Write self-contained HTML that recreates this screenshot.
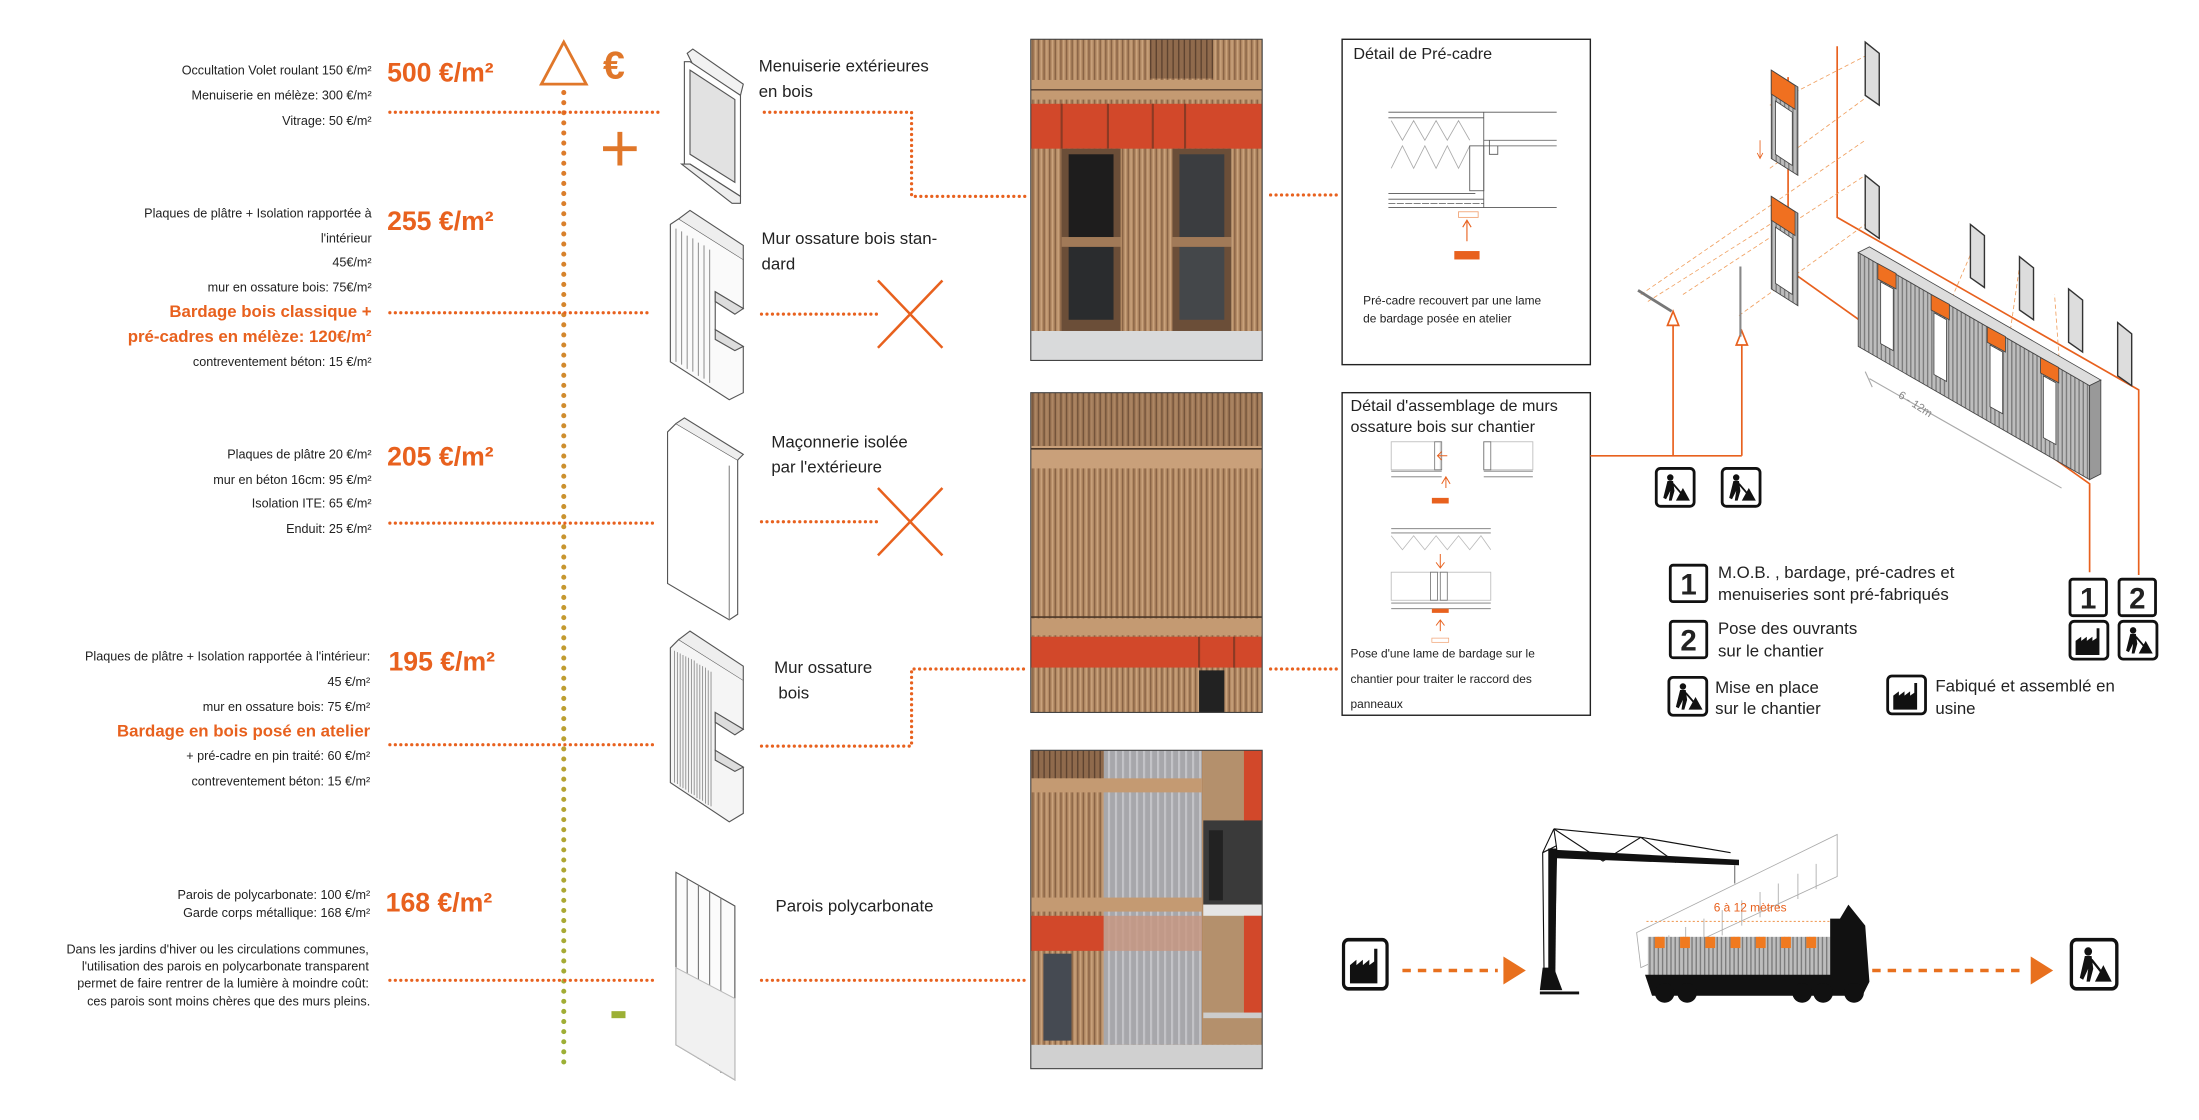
<!DOCTYPE html>
<html><head><meta charset="utf-8"><style>
html,body{margin:0;padding:0;background:#fff;}
svg{display:block;}
text{font-family:"Liberation Sans",sans-serif;}
</style></head><body>
<svg width="2199" height="1120" viewBox="0 0 1568 798.6" xmlns="http://www.w3.org/2000/svg">
<defs>
<linearGradient id="vg" gradientUnits="userSpaceOnUse" x1="0" y1="60" x2="0" y2="760">
<stop offset="0" stop-color="#e0772a"/><stop offset="0.55" stop-color="#c49a30"/><stop offset="1" stop-color="#9cb035"/></linearGradient>
<pattern id="wood" width="4" height="10" patternUnits="userSpaceOnUse">
<rect width="4" height="10" fill="#b38a64"/><rect x="0" width="1" height="10" fill="#8a6446"/><rect x="2" width="1" height="10" fill="#c9a27c"/></pattern>
<pattern id="woodd" width="4" height="10" patternUnits="userSpaceOnUse">
<rect width="4" height="10" fill="#8f6a4c"/><rect x="0" width="1" height="10" fill="#5e4330"/></pattern>
<pattern id="poly" width="5" height="10" patternUnits="userSpaceOnUse">
<rect width="5" height="10" fill="#a7a7ab"/><rect x="0" width="1.5" height="10" fill="#c4c4c8"/></pattern>
<pattern id="panel" width="3" height="10" patternUnits="userSpaceOnUse">
<rect width="3" height="10" fill="#bdbdbd"/><rect width="1" height="10" fill="#7d7d7d"/></pattern>
<g id="worker"><rect x="0" y="0" width="27" height="27" rx="3" fill="#fff" stroke="#111" stroke-width="2"/>
<circle cx="10" cy="6.5" r="2.3" fill="#111"/><path d="M8 9 L12 9 L13 16 L11 23 L9 23 L10 16 L7 22 L5 21 Z" fill="#111"/><path d="M12 11 L18 18" stroke="#111" stroke-width="1.3"/><path d="M14 23 L19 14 L24 23 Z" fill="#111"/></g>
<g id="factory"><rect x="0" y="0" width="27" height="27" rx="3" fill="#fff" stroke="#111" stroke-width="2"/>
<path d="M4 24 L4 14 L8 11 L8 14 L12 11 L12 14 L16 11 L16 14 L19 12 L19 5 L21 5 L21 24 Z" fill="#111"/></g>
</defs>

<!-- LEFT TEXT -->
<g font-size="9" fill="#222" text-anchor="end">
<text x="265" y="53">Occultation Volet roulant 150 €/m²</text>
<text x="265" y="71">Menuiserie en mélèze: 300 €/m²</text>
<text x="265" y="89">Vitrage: 50 €/m²</text>
<text x="265" y="155">Plaques de  plâtre + Isolation rapportée à</text>
<text x="265" y="173">l'intérieur</text>
<text x="265" y="190">45€/m²</text>
<text x="265" y="208">mur en ossature bois: 75€/m²</text>
<text x="265" y="261">contreventement béton: 15 €/m²</text>
<text x="265" y="327">Plaques de plâtre 20 €/m²</text>
<text x="265" y="345">mur en béton 16cm: 95 €/m²</text>
<text x="265" y="362">Isolation ITE: 65 €/m²</text>
<text x="265" y="380">Enduit: 25 €/m²</text>
<text x="264" y="471">Plaques de plâtre + Isolation rapportée à l'intérieur:</text>
<text x="264" y="489">45 €/m²</text>
<text x="264" y="507">mur en ossature bois: 75 €/m²</text>
<text x="264" y="542">+ pré-cadre en pin traité: 60 €/m²</text>
<text x="264" y="560">contreventement béton: 15 €/m²</text>
<text x="264" y="641">Parois de polycarbonate: 100 €/m²</text>
<text x="264" y="654">Garde corps métallique: 168 €/m²</text>
<text x="263" y="680">Dans les jardins d'hiver ou les circulations communes,</text>
<text x="263" y="692">l'utilisation des parois en polycarbonate transparent</text>
<text x="263" y="704">permet de faire rentrer de la lumière à moindre coût:</text>
<text x="264" y="717">ces parois sont moins chères que des murs pleins.</text>
</g>
<g font-size="12" font-weight="bold" fill="#e8611e" text-anchor="end">
<text x="265" y="226">Bardage bois classique +</text>
<text x="265" y="244">pré-cadres en mélèze: 120€/m²</text>
<text x="264" y="525">Bardage en bois posé en atelier</text>
</g>
<g font-size="19" font-weight="bold" fill="#e8611e">
<text x="276" y="58">500 €/m²</text>
<text x="276" y="164">255 €/m²</text>
<text x="276" y="332">205 €/m²</text>
<text x="277" y="478">195 €/m²</text>
<text x="275" y="650">168 €/m²</text>
</g>

<!-- axis -->
<path d="M386 60 L402 30 L418 60 Z" fill="none" stroke="#e0772a" stroke-width="2"/>
<text x="430" y="56" font-size="28" font-weight="bold" fill="#e0772a">€</text>
<path d="M442 94 V118 M430 106 H454" stroke="#e0772a" stroke-width="3.5"/>
<rect x="436" y="721" width="10" height="5" fill="#9cb035"/>
<line x1="402" y1="66" x2="402" y2="762" stroke="url(#vg)" stroke-width="3.6" stroke-linecap="round" stroke-dasharray="0 7.2"/>

<!-- horizontal dotted -->
<g stroke="#e8611e" stroke-width="2.3" stroke-linecap="round" stroke-dasharray="0 3.9" fill="none">
<line x1="278" y1="80" x2="470" y2="80"/>
<line x1="278" y1="223" x2="462" y2="223"/>
<line x1="278" y1="373" x2="467" y2="373"/>
<line x1="278" y1="531" x2="468" y2="531"/>
<line x1="278" y1="699" x2="468" y2="699"/>
<path d="M545 80 H650 V140 H732"/>
<line x1="906" y1="139" x2="955" y2="139"/>
<line x1="543" y1="224" x2="625" y2="224"/>
<line x1="543" y1="372" x2="625" y2="372"/>
<path d="M543 532 H650 V477 H732"/>
<line x1="906" y1="477" x2="955" y2="477"/>
<line x1="543" y1="699" x2="733" y2="699"/>
</g>
<g stroke="#e8611e" stroke-width="1.8">
<path d="M626 200 L672 248 M672 200 L626 248"/>
<path d="M626 348 L672 396 M672 348 L626 396"/>
</g>

<!-- element drawings -->
<g fill="#fff" stroke="#555" stroke-width="0.8">
<path d="M490 38 L494 35 L530 60 L528 68 L494 46 Z" fill="#f2f2f2"/>
<path d="M488 44 L492 44 L528 68 L528 140 L492 117 L488 117 Z"/>
<path d="M492 50 L524 71 L524 130 L492 110 Z" fill="#e2e2e2"/>
<path d="M486 117 L492 117 L528 140 L528 145 L522 145 Z" fill="#eee"/>
<!-- stud wall 1 -->
<path d="M478 160 L484 156 L530 185 L530 220 L510 208 L510 235 L530 247 L530 280 L520 285 L478 258 Z" fill="#fafafa"/>
<path d="M484 156 L492 150 L530 175 L530 185" fill="#eee"/>
<path d="M482 163 V258 M486 165 V260 M490 168 V263 M494 170 V265 M498 173 V268 M502 175 V270 M506 178 V273" stroke="#999"/>
<path d="M510 208 L530 220 L524 224 L510 215 Z M510 235 L530 247 L524 250 L510 242 Z" fill="#ddd"/>
<!-- masonry -->
<path d="M476 308 L482 302 L526 328 L526 438 L520 442 L476 416 Z"/>
<path d="M482 302 L488 298 L530 324 L526 328" fill="#eee"/>
<path d="M520 332 V442" stroke="#888"/>
<!-- stud wall 2 -->
<path d="M478 462 L484 456 L530 485 L530 520 L510 508 L510 535 L530 547 L530 580 L520 586 L478 558 Z" fill="#f5f5f5"/>
<path d="M484 456 L492 450 L530 475 L530 485" fill="#eee"/>
<path d="M481 464 V558 M483 465 V559 M485 466 V561 M487 467 V562 M489 468 V563 M491 469 V565 M493 470 V566 M495 471 V567 M497 473 V569 M499 474 V570 M501 475 V571 M503 476 V573 M505 478 V574 M507 479 V575" stroke="#888" stroke-width="0.6"/>
<path d="M510 508 L530 520 L524 524 L510 515 Z M510 535 L530 547 L524 550 L510 542 Z" fill="#ddd"/>
<!-- polycarbonate -->
<path d="M482 622 L524 646 L524 770 L482 745 Z" fill="#fbfbfb"/>
<path d="M490 627 V750 M498 631 V755 M506 636 V760 M514 640 V765" stroke="#777"/>
<path d="M482 690 L524 712 L524 770 L482 745 Z" fill="#f1f1f1" stroke="#bbb"/>
</g>

<g font-size="12" fill="#222">
<text x="541" y="51">Menuiserie extérieures</text>
<text x="541" y="69">en bois</text>
<text x="543" y="174">Mur ossature bois stan-</text>
<text x="543" y="192">dard</text>
<text x="550" y="319">Maçonnerie isolée</text>
<text x="550" y="337">par l'extérieure</text>
<text x="552" y="480">Mur ossature</text>
<text x="555" y="498">bois</text>
<text x="553" y="650">Parois polycarbonate</text>
</g>

<!-- PHOTO 1 -->
<g>
<rect x="735" y="28" width="165" height="229" fill="url(#wood)"/>
<rect x="820" y="28" width="45" height="28" fill="url(#woodd)"/>
<rect x="735" y="57" width="165" height="14" fill="#c49a72"/>
<line x1="735" y1="64" x2="900" y2="64" stroke="#5a4030" stroke-width="1"/>
<rect x="735" y="74" width="165" height="32" fill="#d2482a"/>
<path d="M757 74 V106 M790 74 V106 M822 74 V106 M845 74 V106" stroke="#8b3a24" stroke-width="1.5"/>
<rect x="757" y="106" width="42" height="130" fill="#6b4e38"/>
<rect x="762" y="110" width="32" height="60" fill="#1e1d1d"/>
<rect x="762" y="176" width="32" height="52" fill="#2a2c2e"/>
<rect x="757" y="169" width="42" height="7" fill="#a17a58"/>
<rect x="836" y="106" width="42" height="130" fill="#6b4e38"/>
<rect x="841" y="110" width="32" height="60" fill="#3b3d40"/>
<rect x="841" y="176" width="32" height="52" fill="#44474a"/>
<rect x="836" y="169" width="42" height="7" fill="#a17a58"/>
<rect x="735" y="236" width="165" height="21" fill="#d9dadb"/>
<rect x="735" y="28" width="165" height="229" fill="none" stroke="#444" stroke-width="0.8"/>
</g>
<!-- PHOTO 2 -->
<g>
<rect x="735" y="280" width="165" height="228" fill="url(#wood)"/>
<rect x="735" y="280" width="165" height="40" fill="url(#woodd)" opacity="0.5"/>
<rect x="735" y="318" width="165" height="16" fill="#c9a07a"/>
<line x1="735" y1="320" x2="900" y2="320" stroke="#4d3828" stroke-width="1.2"/>
<line x1="735" y1="440" x2="900" y2="440" stroke="#4d3828" stroke-width="1.2"/>
<rect x="735" y="441" width="165" height="12" fill="#c49a72"/>
<rect x="735" y="454" width="165" height="22" fill="#d2482a"/>
<path d="M855 454 V476 M880 454 V476" stroke="#8b3a24" stroke-width="1.5"/>
<rect x="855" y="478" width="18" height="30" fill="#222"/>
<rect x="735" y="280" width="165" height="228" fill="none" stroke="#444" stroke-width="0.8"/>
</g>
<!-- PHOTO 3 -->
<g>
<rect x="735" y="535" width="165" height="227" fill="url(#wood)"/>
<rect x="787" y="535" width="70" height="210" fill="url(#poly)"/>
<rect x="735" y="535" width="52" height="20" fill="url(#woodd)"/>
<rect x="735" y="555" width="122" height="10" fill="#c49a72"/>
<rect x="858" y="535" width="42" height="210" fill="#b4906c"/>
<rect x="887" y="535" width="13" height="60" fill="#d2482a"/>
<rect x="858" y="585" width="42" height="60" fill="#3a3a3a"/>
<rect x="862" y="592" width="10" height="50" fill="#222"/>
<rect x="858" y="645" width="42" height="8" fill="#e5e5e5"/>
<rect x="735" y="640" width="122" height="10" fill="#c49a72"/>
<rect x="735" y="653" width="52" height="25" fill="#d2482a"/>
<rect x="787" y="653" width="70" height="25" fill="#c89680" opacity="0.8"/>
<rect x="887" y="653" width="13" height="70" fill="#d2482a"/>
<rect x="744" y="680" width="20" height="62" fill="#454a52"/>
<rect x="858" y="722" width="42" height="4" fill="#ccc"/>
<rect x="735" y="745" width="165" height="17" fill="#d0d0d0"/>
<rect x="735" y="535" width="165" height="227" fill="none" stroke="#444" stroke-width="0.8"/>
</g>

<!-- DETAIL BOXES -->
<rect x="957" y="28" width="177" height="232" fill="#fff" stroke="#222" stroke-width="1"/>
<text x="965" y="42" font-size="11.5" fill="#222">Détail de Pré-cadre</text>
<g stroke="#555" stroke-width="0.6" fill="none">
<path d="M990 80 H1110 M990 84 H1058 M1058 80 V148 M990 148 H1110 M990 142 H1058 M990 138 H1052"/>
<path d="M992 86 L1000 100 L1008 86 L1016 100 L1024 86 L1032 100 L1040 86 L1048 100 M992 120 L1000 104 L1008 120 L1016 104 L1024 120 L1032 104 L1040 120 L1048 104" stroke="#aaa"/>
<rect x="1048" y="104" width="10" height="32"/>
<path d="M1058 100 H1110 M1058 104 H1110 M1062 100 V110 H1068 V104" />
<path d="M990 145 H1058" stroke-dasharray="5 1"/>
</g>
<rect x="1040" y="151" width="14" height="4" fill="none" stroke="#f0a070" stroke-width="0.6"/>
<path d="M1046 158 V172 M1043 162 L1046 157 L1049 162" stroke="#e8611e" stroke-width="0.8" fill="none"/>
<rect x="1037" y="179" width="18" height="6" fill="#e8611e"/>
<text x="972" y="217" font-size="8.5" fill="#222">Pré-cadre recouvert par une lame</text>
<text x="972" y="230" font-size="8.5" fill="#222">de bardage posée en atelier</text>

<rect x="957" y="280" width="177" height="230" fill="#fff" stroke="#222" stroke-width="1"/>
<text x="963" y="293" font-size="11.5" fill="#222">Détail d'assemblage de murs</text>
<text x="963" y="308" font-size="11.5" fill="#222">ossature bois sur chantier</text>
<g stroke="#777" stroke-width="0.6" fill="none">
<rect x="992" y="315" width="35" height="20" stroke="#bbb"/><rect x="1023" y="315" width="5" height="20"/>
<path d="M992 336 H1028 M992 340 H1028"/>
<rect x="1058" y="315" width="35" height="20" stroke="#bbb"/><rect x="1058" y="315" width="5" height="20"/>
<path d="M1058 336 H1093 M1058 340 H1093"/>
<path d="M992 377 H1063 M992 380 H1063" />
<path d="M992 382 L1000 392 L1008 382 L1016 392 L1024 382 L1032 392 L1040 382 L1048 392 L1056 382 L1063 392" stroke="#bbb"/>
<rect x="992" y="408" width="71" height="20" stroke="#bbb"/><rect x="1020" y="408" width="5" height="20"/><rect x="1027" y="408" width="5" height="20"/>
<path d="M992 430 H1063 M992 434 H1063"/>
</g>
<path d="M1031 348 V340 M1028 345 L1031 340 L1034 345 M1025 325 H1032 M1028 322 L1025 325 L1028 328 M1027 395 V405 M1024 401 L1027 405 L1030 401 M1027 450 V442 M1024 446 L1027 442 L1030 446" stroke="#e8611e" stroke-width="0.7" fill="none"/>
<rect x="1021" y="355" width="12" height="4" fill="#e8611e"/>
<rect x="1021" y="434" width="12" height="3" fill="#e8611e"/>
<rect x="1021" y="455" width="12" height="3" fill="none" stroke="#f0a070" stroke-width="0.5"/>
<g font-size="8.5" fill="#222">
<text x="963" y="469">Pose d'une lame de bardage sur le</text>
<text x="963" y="487">chantier pour traiter le raccord des</text>
<text x="963" y="505">panneaux</text>
</g>

<!-- connectors to iso -->
<g stroke="#e8611e" stroke-width="1.2" fill="none">
<path d="M1134 325 H1242"/>
<path d="M1193 325 V232 M1242 325 V246"/>
<path d="M1189 232 L1193 222 L1197 232 Z M1238 246 L1242 236 L1246 246 Z" fill="#fff"/>
<path d="M1275 55 V192 L1490 345 V408"/>
<path d="M1310 33 V155 L1525 278 V410"/>
</g>
<use href="#worker" x="1181" y="334"/>
<use href="#worker" x="1228" y="334"/>

<!-- iso diagram -->
<g stroke="#f0a060" stroke-width="0.6" stroke-dasharray="3 2" fill="none">
<path d="M1170 210 L1330 100 M1200 210 L1330 125 M1240 225 L1330 160 M1175 215 L1262 160"/>
<path d="M1262 75 L1330 40 M1262 120 L1330 70"/>
<path d="M1380 240 L1410 170 M1430 260 L1440 190 M1470 280 L1465 210"/>
</g>
<g stroke="#333" stroke-width="1">
<path d="M1168 207 L1192 222" stroke="#777" stroke-width="2"/>
<path d="M1241 190 V240" stroke="#888" stroke-width="1.5"/>
<path d="M1330 30 L1340 38 L1340 75 L1330 68 Z" fill="#ddd"/>
<path d="M1330 125 L1340 133 L1340 170 L1330 163 Z" fill="#ddd"/>
<path d="M1405 160 L1415 168 L1415 205 L1405 198 Z" fill="#ddd"/>
<path d="M1440 183 L1450 191 L1450 228 L1440 221 Z" fill="#ddd"/>
<path d="M1475 206 L1485 214 L1485 251 L1475 244 Z" fill="#ddd"/>
<path d="M1510 230 L1520 238 L1520 275 L1510 268 Z" fill="#ddd"/>
</g>
<g stroke="#444" stroke-width="0.6">
<path d="M1263 50 L1282 62 L1282 125 L1263 113 Z" fill="url(#panel)"/>
<path d="M1263 50 L1280 61 L1280 78 L1263 67 Z" fill="#f07020"/>
<path d="M1266 72 L1278 80 L1278 118 L1266 110 Z" fill="#fff"/>
<path d="M1263 140 L1282 152 L1282 218 L1263 206 Z" fill="url(#panel)"/>
<path d="M1263 140 L1280 151 L1280 168 L1263 157 Z" fill="#f07020"/>
<path d="M1266 162 L1278 170 L1278 210 L1266 202 Z" fill="#fff"/>
<path d="M1325 180 L1490 275 L1490 342 L1325 247 Z" fill="url(#panel)"/>
<path d="M1325 180 L1333 176 L1498 271 L1490 275 Z" fill="#ddd"/>
<path d="M1490 275 L1498 271 L1498 338 L1490 342 Z" fill="#999"/>
<path d="M1339 188 L1352 195 L1352 206 L1339 199 Z M1377 210 L1390 217 L1390 228 L1377 221 Z M1417 233 L1430 240 L1430 251 L1417 244 Z M1455 255 L1468 262 L1468 273 L1455 266 Z" fill="#f07020"/>
<path d="M1341 201 L1350 206 L1350 250 L1341 245 Z M1379 223 L1388 228 L1388 272 L1379 267 Z M1419 246 L1428 251 L1428 295 L1419 290 Z M1457 268 L1466 273 L1466 317 L1457 312 Z" fill="#fff"/>
</g>
<path d="M1255 100 V112 M1253 109 L1255 113 L1257 109" stroke="#e8611e" stroke-width="0.6" fill="none"/>
<path d="M1333 270 L1470 348 M1330 265 L1335 276" stroke="#aaa" stroke-width="0.8"/>
<text x="1353" y="283" font-size="8" fill="#888" transform="rotate(33 1353 283)">6 - 12m</text>

<!-- legend -->
<g font-size="12" fill="#222">
<rect x="1191" y="403" width="26" height="26" rx="2" fill="#fff" stroke="#111" stroke-width="2"/>
<text x="1204" y="424" font-size="21" font-weight="bold" text-anchor="middle">1</text>
<text x="1225" y="412">M.O.B. , bardage, pré-cadres et</text>
<text x="1225" y="428">menuiseries sont pré-fabriqués</text>
<rect x="1191" y="443" width="26" height="26" rx="2" fill="#fff" stroke="#111" stroke-width="2"/>
<text x="1204" y="464" font-size="21" font-weight="bold" text-anchor="middle">2</text>
<text x="1225" y="452">Pose des ouvrants</text>
<text x="1225" y="468">sur le chantier</text>
<text x="1223" y="494">Mise en place</text>
<text x="1223" y="509">sur le chantier</text>
<text x="1380" y="493">Fabiqué et assemblé en</text>
<text x="1380" y="509">usine</text>
<rect x="1476" y="413" width="26" height="26" rx="2" fill="#fff" stroke="#111" stroke-width="2"/>
<text x="1489" y="434" font-size="21" font-weight="bold" text-anchor="middle">1</text>
<rect x="1511" y="413" width="26" height="26" rx="2" fill="#fff" stroke="#111" stroke-width="2"/>
<text x="1524" y="434" font-size="21" font-weight="bold" text-anchor="middle">2</text>
</g>
<use href="#worker" x="1190" y="483"/>
<use href="#factory" x="1346" y="482"/>
<use href="#factory" x="1476" y="443"/>
<use href="#worker" x="1511" y="443"/>

<!-- bottom: transport -->
<use href="#factory" x="958" y="670" transform="translate(958 670) scale(1.15 1.3) translate(-958 -670)"/>
<line x1="1000" y1="692" x2="1068" y2="692" stroke="#e8701e" stroke-width="2.5" stroke-dasharray="6 5"/>
<path d="M1072 682 L1088 692 L1072 702 Z" fill="#e8701e"/>
<line x1="1335" y1="692" x2="1440" y2="692" stroke="#e8701e" stroke-width="2.5" stroke-dasharray="6 5"/>
<path d="M1448 682 L1464 692 L1448 702 Z" fill="#e8701e"/>
<use href="#worker" x="1477" y="670" transform="translate(1477 670) scale(1.2 1.3) translate(-1477 -670)"/>
<!-- crane -->
<g stroke="#111" fill="none" stroke-width="0.8">
<path d="M1108 591 L1100 608 L1101 695 M1108 591 L1110 605 L1108 695"/>
<path d="M1108 591 L1170 597 L1234 608 M1108 591 L1143 614 L1170 597 L1195 615 M1100 608 L1110 603"/>
<path d="M1098 708 H1126" stroke-width="2"/>
</g>
<path d="M1104 605 L1110 605 L1109 700 L1104 700 Z" fill="#111"/>
<path d="M1110 606 L1240 613 L1240 617 L1110 612 Z" fill="#111"/>
<path d="M1100 690 L1108 690 L1114 706 L1098 706 Z" fill="#111"/>
<path d="M1237 617 V630" stroke="#444" stroke-width="0.6"/>
<g stroke="#aaa" stroke-width="0.6" fill="#fff">
<path d="M1167 665 L1310 595 L1310 625 L1170 690 Z"/>
<path d="M1180 672 V690 M1190 667 V683 M1202 661 V680 M1215 655 V673 M1228 649 V667 M1242 642 V660 M1255 636 V654 M1268 630 V648 M1282 623 V641 M1295 616 V634" fill="none"/>
</g>
<text x="1222" y="650" font-size="8.5" fill="#e8611e">6 à 12 mètres</text>
<line x1="1174" y1="657" x2="1305" y2="657" stroke="#f0a060" stroke-width="0.8" stroke-dasharray="1.5 1.5"/>
<!-- truck -->
<rect x="1175" y="668" width="130" height="28" fill="url(#panel)"/>
<g fill="#f07a20"><rect x="1180" y="668" width="7" height="8"/><rect x="1198" y="668" width="7" height="8"/><rect x="1216" y="668" width="7" height="8"/><rect x="1234" y="668" width="7" height="8"/><rect x="1252" y="668" width="7" height="8"/><rect x="1270" y="668" width="7" height="8"/><rect x="1288" y="668" width="7" height="8"/></g>
<path d="M1173 695 H1305 V655 H1312 L1318 645 L1330 660 L1333 700 L1328 710 H1178 Z" fill="#111"/>
<g fill="#111"><circle cx="1187" cy="708" r="7"/><circle cx="1203" cy="708" r="7"/><circle cx="1285" cy="708" r="7"/><circle cx="1300" cy="708" r="7"/><circle cx="1322" cy="708" r="7"/></g>
</svg>
</body></html>
